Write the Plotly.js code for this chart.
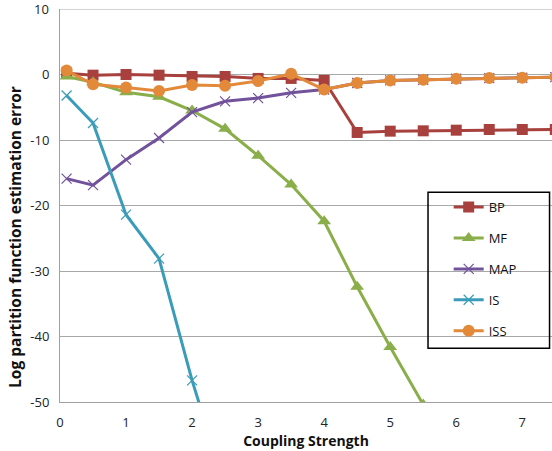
<!DOCTYPE html>
<html><head><meta charset="utf-8">
<script src="https://cdn.plot.ly/plotly-3.0.1.min.js"></script>
<style>html,body{margin:0;padding:0;background:#fff}#chart{width:552px;height:451px}</style>
</head><body><div id="chart"></div>
<script>
const xs = [0.1, 0.5, 1, 1.5, 2, 2.5, 3, 3.5, 4, 4.5, 5, 5.5, 6, 6.5, 7, 7.5];
const bp  = [0.2, -0.1, 0, -0.1, -0.3, -0.3, -0.6, -0.6, -0.9, -8.85, -8.65, -8.6, -8.5, -8.4, -8.4, -8.4];
const mfX = [0.1, 0.5, 1, 1.5, 2, 2.5, 3, 3.5, 4, 4.5, 5, 5.5];
const mf  = [-0.3, -1.2, -2.7, -3.4, -5.5, -8.3, -12.4, -16.8, -22.4, -32.4, -41.6, -50.4];
const map = [-15.9, -16.9, -13.0, -9.7, -5.75, -4.1, -3.6, -2.8, -2.3, -1.3, -0.9, -0.8, -0.65, -0.55, -0.5, -0.4];
const isX = [0.1, 0.5, 1, 1.5, 2, 2.5];
const is  = [-3.2, -7.4, -21.4, -28.1, -46.7, -63];
const iss = [0.6, -1.5, -2.0, -2.5, -1.6, -1.7, -1.0, 0.1, -2.3, -1.3, -0.9, -0.8, -0.65, -0.55, -0.5, -0.4];
const names = ['BP', 'MF', 'MAP', 'IS', 'ISS'];
const xTicks = [0, 1, 2, 3, 4, 5, 6, 7];
const yTicks = [-50, -40, -30, -20, -10, 0, 10];
const xTitle = 'Coupling Strength';
const yTitle = 'Log partition function estimation error';

const colors = ['#A8413E', '#8AAE4A', '#71529B', '#3A9CB8', '#E38A3A'];
const mk = (name, x, y, color, symbol, size, lw) => ({
  type: 'scatter', mode: 'lines+markers', name: name, x: x, y: y,
  legendgroup: name,
  line: {color: color, width: 3},
  marker: {color: color, symbol: symbol, size: size, line: {color: color, width: lw}},
  cliponaxis: true
});
const traces = [
  mk(names[0], xs, bp, colors[0], 'square', 11, 0),
  mk(names[1], mfX, mf, colors[1], 'triangle-up', 12, 0),
  mk(names[2], xs, map, colors[2], 'x-thin-open', 10, 1.2),
  mk(names[3], isX, is, colors[3], 'x-thin-open', 10, 1.2),
  mk(names[4], xs, iss, colors[4], 'circle', 12, 0)
];
const fontFam = 'Open Sans, Liberation Sans, sans-serif';
const topTick = yTicks[yTicks.length - 1];
const layout = {
  width: 552, height: 451,
  margin: {l: 60, r: 0, t: 9, b: 49},
  paper_bgcolor: '#fff', plot_bgcolor: '#fff',
  font: {family: fontFam, size: 13, color: '#222'},
  showlegend: true,
  legend: {x: 0.79, y: 0.534, xanchor: 'left', yanchor: 'top',
    bgcolor: 'rgba(0,0,0,0)', borderwidth: 0, traceorder: 'grouped', tracegroupgap: 11,
    font: {family: fontFam, size: 13, color: '#111'}},
  shapes: [{type: 'rect', xref: 'paper', yref: 'paper',
    x0: 0.748, x1: 0.995, y0: 0.137, y1: 0.534,
    line: {color: '#000', width: 1.5}, fillcolor: 'rgba(0,0,0,0)'},
    {type: 'line', xref: 'paper', yref: 'y', x0: 0, x1: 1, y0: topTick, y1: topTick,
    line: {color: '#a8a8a8', width: 1}}],
  annotations: [
    {xref: 'paper', yref: 'y', x: 0, y: topTick, xanchor: 'right', yanchor: 'middle',
     xshift: -9, text: String(topTick), showarrow: false, font: {size: 13, color: '#222'}},
    {xref: 'paper', yref: 'paper', x: -0.0915, y: 0.42, xanchor: 'center', yanchor: 'middle',
     textangle: -90, text: '<b>' + yTitle + '</b>', showarrow: false, font: {size: 15.5, color: '#111'}}
  ],
  xaxis: {range: [0, 7.45], tickvals: xTicks, ticktext: xTicks.map(String),
    showgrid: false, zeroline: false, showline: true, linecolor: '#a0a0a0', linewidth: 1,
    ticks: 'outside', ticklen: 8, tickcolor: 'rgba(0,0,0,0)', tickfont: {size: 13, color: '#222'},
    title: {text: '<b>' + xTitle + '</b>', font: {size: 14, color: '#111'}, standoff: 4}},
  yaxis: {range: [-50, 10], tickmode: 'array', tickvals: yTicks, ticktext: yTicks.map(String),
    showgrid: true, gridcolor: '#a8a8a8', gridwidth: 1, zeroline: false,
    showline: true, linecolor: '#a0a0a0', linewidth: 1,
    ticks: 'outside', ticklen: 7, tickcolor: 'rgba(0,0,0,0)',
    tickfont: {size: 13, color: '#222'}}
};
Plotly.newPlot('chart', traces, layout, {displayModeBar: false, staticPlot: true});
</script></body></html>
